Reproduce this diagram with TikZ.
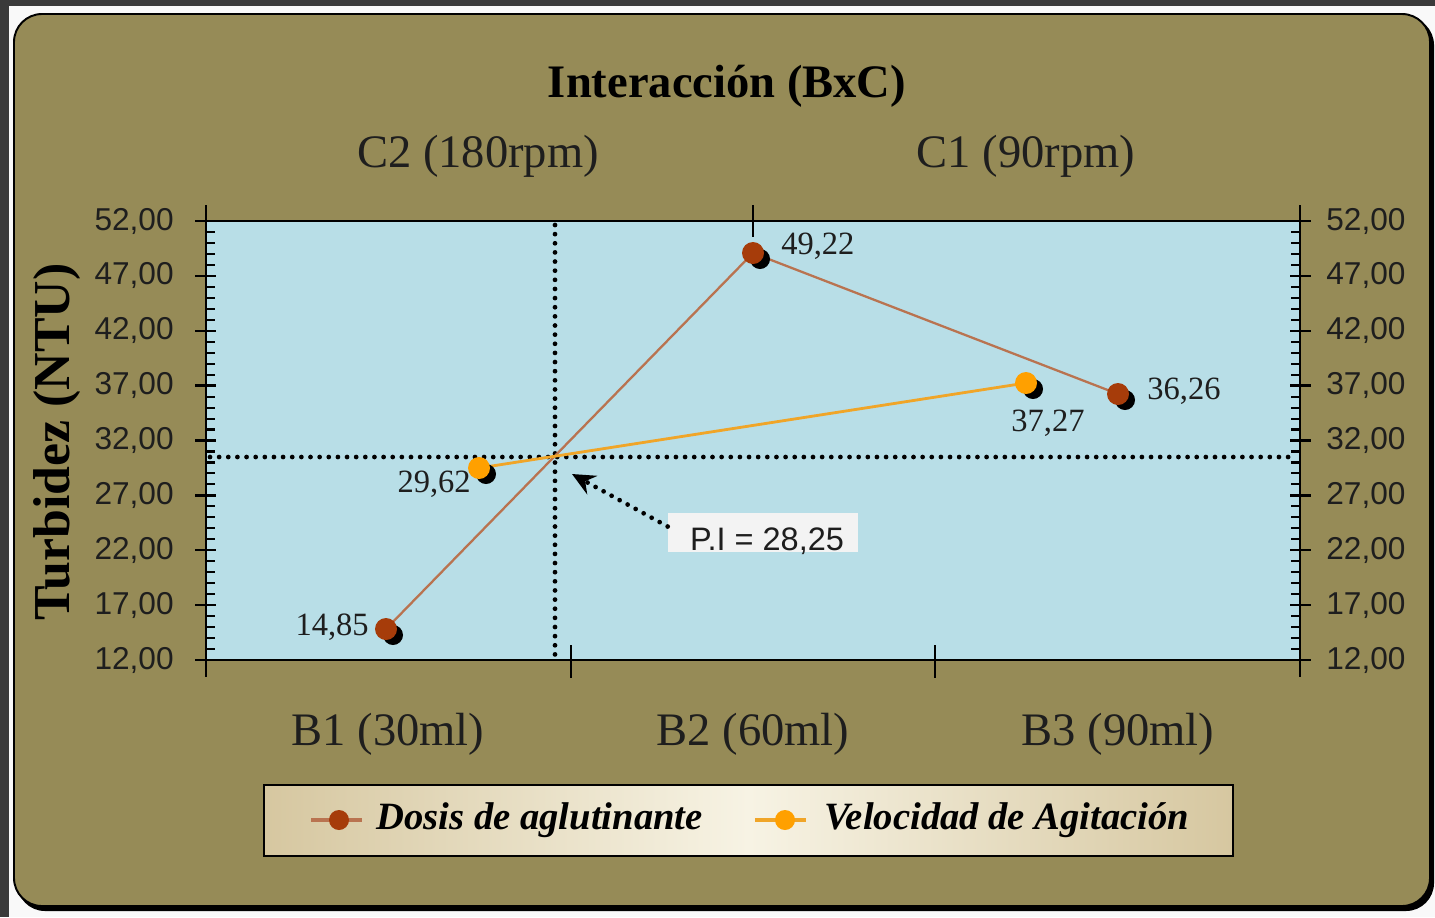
\documentclass[tikz,border=0pt]{standalone}
\usepackage{fontspec}
\setmainfont{Liberation Serif}
\newfontfamily\arialf{Liberation Sans}
\usetikzlibrary{arrows.meta}
\definecolor{panelc}{RGB}{150,139,87}
\definecolor{plotc}{RGB}{184,222,231}
\definecolor{dosisc}{RGB}{166,60,10}
\definecolor{dosisl}{RGB}{185,115,80}
\definecolor{veloc}{RGB}{255,160,0}
\definecolor{velol}{RGB}{240,165,40}
\definecolor{legtan}{RGB}{214,199,160}
\definecolor{legcream}{RGB}{247,243,228}
\definecolor{txt}{RGB}{30,30,30}
\definecolor{darkbg}{RGB}{58,58,58}
\definecolor{pibg}{RGB}{243,243,243}
\tikzset{
  axisline/.style={black, line width=1.3pt},
  dotline/.style={black, line width=2.7pt, line cap=round, dash pattern=on 0pt off 5.2pt},
  ticklbl/.style={text=txt, font=\arialf\fontsize{18}{21}\selectfont, inner sep=0pt},
  catlbl/.style={text=txt, font=\fontsize{26.5}{30}\selectfont, inner sep=0pt},
  datalbl/.style={text=txt, font=\fontsize{18.5}{22}\selectfont, inner sep=0pt},
  legtxt/.style={text=black, font=\bfseries\itshape\fontsize{22}{24}\selectfont, inner sep=0pt, anchor=west},
  mk/.style={circle, inner sep=0pt, minimum size=0.44cm},
  mkshadow/.style={circle, fill=black, inner sep=0pt, minimum size=0.40cm},
}
\begin{document}
\begin{tikzpicture}[x=0.02cm, y=-0.02cm]
\useasboundingbox (0,0) rectangle (1435,917);
% background
\fill[white!95!gray] (0,0) rectangle (1435,917);
\fill[darkbg] (0,0) rectangle (1435,6);
\fill[darkbg] (0,0) rectangle (9,917);
% panel
\fill[black, rounded corners=0.56cm] (17,17) rectangle (1434,911);
\draw[black, line width=1.1pt, fill=panelc, rounded corners=0.56cm] (14,14) rectangle (1430,906);
% plot area
\fill[plotc] (206,221) rectangle (1300,660);
% title
\node[font=\bfseries\fontsize{26.5}{30}\selectfont, inner sep=0pt] (title) at (727,86) {Interacción (BxC)};
\node[font=\bfseries\fontsize{29.5}{32}\selectfont, rotate=90, inner sep=0pt] (ytitle) at (57,442) {Turbidez (NTU)};
% categories
\node[catlbl] (c2) at (478,156) {C2 (180rpm)};
\node[catlbl] (c1) at (1026,156) {C1 (90rpm)};
\node[catlbl] (b1) at (388,734) {B1 (30ml)};
\node[catlbl] (b2) at (753,734) {B2 (60ml)};
\node[catlbl] (b3) at (1118,734) {B3 (90ml)};
% dotted reference lines
\draw[dotline] (555,225) -- (555,657);
\draw[dotline] (210,457) -- (1297,457);
% axes
\draw[axisline] (206,205) -- (206,677);
\draw[axisline] (1300,205) -- (1300,677);
\draw[axisline] (206,221) -- (1300,221);
\draw[axisline] (206,660) -- (1300,660);
\foreach \x in {571,935} \draw[axisline] (\x,645) -- (\x,678);
\draw[axisline] (753,205) -- (753,237);
\foreach \v in {12,17,...,52}{
  \pgfmathsetmacro{\yy}{660-(\v-12)*10.975}
  \draw[axisline] (195,\yy) -- (216,\yy);
  \draw[axisline] (1290,\yy) -- (1311,\yy);
  \node[ticklbl, anchor=east] at (174,\yy) {\v,00};
  \node[ticklbl, anchor=west] at (1326,\yy) {\v,00};
}
\foreach \v in {13,...,51}{
  \pgfmathsetmacro{\yy}{660-(\v-12)*10.975}
  \draw[black, line width=1.2pt] (206,\yy) -- (215,\yy);
  \draw[black, line width=1.2pt] (1291,\yy) -- (1300,\yy);
}
% data positions
\coordinate (d1) at (386,629);
\coordinate (d2) at (753,253);
\coordinate (d3) at (1118,394);
\coordinate (v1) at (479,468);
\coordinate (v2) at (1026,383);
% lines
\draw[dosisl, line width=1.3pt] (d1) -- (d2) -- (d3);
\draw[velol, line width=1.6pt] (v1) -- (v2);
% markers with shadows
\foreach \p in {d1,d2,d3,v1,v2}{
  \node[mkshadow] at ([shift={(7,6)}]\p) {};
}
\node[mk, fill=dosisc] (md1) at (d1) {};
\node[mk, fill=dosisc] (md2) at (d2) {};
\node[mk, fill=dosisc] (md3) at (d3) {};
\node[mk, fill=veloc] (mv1) at (v1) {};
\node[mk, fill=veloc] (mv2) at (v2) {};
% data labels
\node[datalbl, anchor=east] (l1) at (369,627) {14,85};
\node[datalbl, anchor=west] (l2) at (781,246) {49,22};
\node[datalbl, anchor=west] (l3) at (1147,391) {36,26};
\node[datalbl] (l4) at (1048,423) {37,27};
\node[datalbl, anchor=east] (l5) at (471,484) {29,62};
% P.I label
\node[fill=pibg, minimum width=3.8cm, minimum height=0.78cm, inner sep=0pt] (pibox) at (763,532.5) {};
\node[ticklbl, font=\arialf\fontsize{18.5}{21}\selectfont] (pitxt) at (767,541) {P.I = 28,25};
\coordinate (pitip) at (572,474);
\draw[dotline, -{Stealth[length=0.46cm, width=0.42cm, inset=0.16cm]}] (pibox.west) ++(0,-6) -- (pitip);
% legend
\shade[left color=legtan, right color=legtan, middle color=legcream] (264,785) rectangle (1233,856);
\draw[black, line width=1.3pt] (264,785) rectangle (1233,856);
\coordinate (lg1a) at (311,820); \coordinate (lg1b) at (362,820);
\coordinate (lg2a) at (755,820); \coordinate (lg2b) at (806,820);
\draw[dosisl, line width=1.8pt] (lg1a) -- (lg1b);
\node[mk, fill=dosisc, minimum size=0.40cm] (lgm1) at (339,820) {};
\draw[velol, line width=1.8pt] (lg2a) -- (lg2b);
\node[mk, fill=veloc, minimum size=0.40cm] (lgm2) at (785,820) {};
\node[legtxt] (lgt1) at (376,820) {Dosis de aglutinante};
\node[legtxt] (lgt2) at (824,820) {Velocidad de Agitación};
\end{tikzpicture}
\end{document}
